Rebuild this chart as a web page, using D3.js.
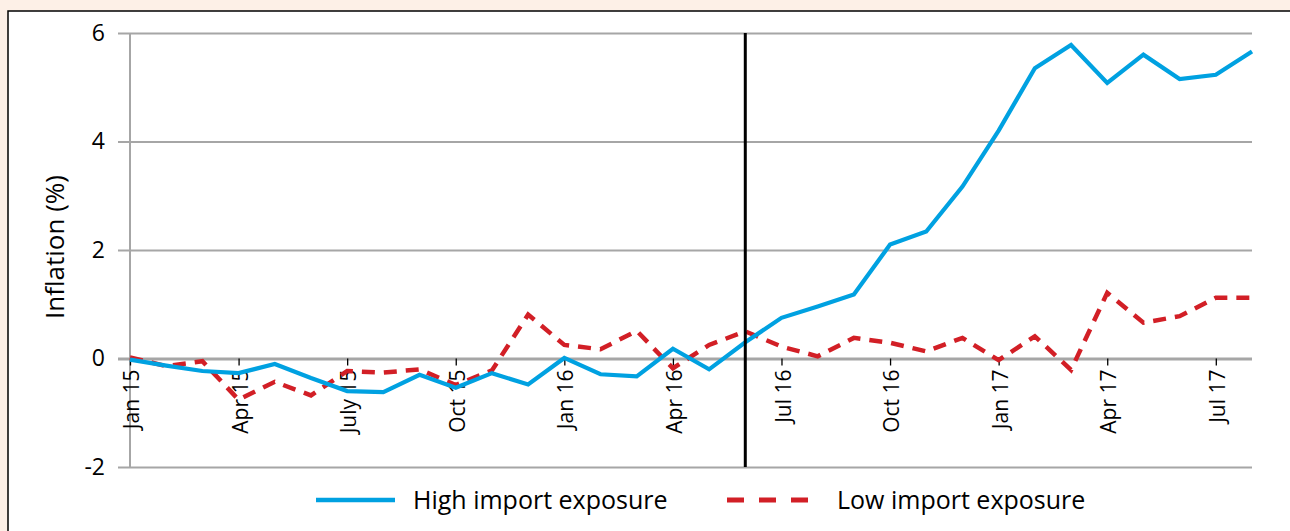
<!DOCTYPE html>
<html>
<head>
<meta charset="utf-8">
<script src="https://cdn.jsdelivr.net/npm/d3@7"></script>
<style>
  html, body { margin: 0; padding: 0; background: #fdf0e7; overflow: hidden; }
  svg { display: block; font-family: "Open Sans", sans-serif; }
</style>
</head>
<body>
<svg id="chart" width="1290" height="531"></svg>
<script>
  // monthly categories, Jan 2015 - Aug 2017
  var months = [
    "Jan 15", "Feb 15", "Mar 15", "Apr 15", "May 15", "Jun 15", "Jul 15", "Aug 15",
    "Sep 15", "Oct 15", "Nov 15", "Dec 15", "Jan 16", "Feb 16", "Mar 16", "Apr 16",
    "May 16", "Jun 16", "Jul 16", "Aug 16", "Sep 16", "Oct 16", "Nov 16", "Dec 16",
    "Jan 17", "Feb 17", "Mar 17", "Apr 17", "May 17", "Jun 17", "Jul 17", "Aug 17"
  ];

  var highImport = [
    -0.02, -0.13, -0.23, -0.27, -0.10, -0.36, -0.60, -0.62,
    -0.30, -0.54, -0.27, -0.48, 0.01, -0.29, -0.33, 0.18,
    -0.20, 0.30, 0.75, 0.96, 1.18, 2.10, 2.34, 3.17,
    4.20, 5.35, 5.78, 5.08, 5.60, 5.15, 5.23, 5.66
  ];

  var lowImport = [
    0.02, -0.14, -0.05, -0.76, -0.43, -0.68, -0.23, -0.26,
    -0.20, -0.49, -0.22, 0.81, 0.25, 0.17, 0.51, -0.18,
    0.25, 0.50, 0.22, 0.04, 0.38, 0.29, 0.13, 0.38,
    -0.03, 0.41, -0.21, 1.21, 0.66, 0.78, 1.12, 1.12
  ];

  var tickMonths = ["Jan 15", "Apr 15", "Jul 15", "Oct 15", "Jan 16", "Apr 16", "Jul 16", "Oct 16", "Jan 17", "Apr 17", "Jul 17"];
  var tickLabels = ["Jan 15", "Apr 15", "July 15", "Oct 15", "Jan 16", "Apr 16", "Jul 16", "Oct 16", "Jan 17", "Apr 17", "Jul 17"];
  var yTicks = [-2, 0, 2, 4, 6];
  var eventMonth = "Jun 16";

  var font = "'Open Sans', sans-serif";
  var svg = d3.select("#chart");

  // white panel with black frame (runs off the right/bottom edge)
  svg.append("rect")
      .attr("x", 8).attr("y", 11)
      .attr("width", 1320).attr("height", 560)
      .attr("fill", "#fff")
      .attr("stroke", "#000")
      .attr("stroke-width", 1.5);

  var x = d3.scalePoint()
      .domain(months)
      .range([130, 1252]);

  var y = d3.scaleLinear()
      .domain([-2, 6])
      .range([467, 33]);

  // gridlines + y axis
  var gy = svg.append("g")
      .attr("transform", "translate(" + x.range()[0] + ",0)")
      .call(d3.axisLeft(y)
        .tickValues(yTicks)
        .tickSize(-(x.range()[1] - x.range()[0]))
        .tickSizeOuter(0)
        .tickPadding(25)
        .tickFormat(function(d) { return String(d); }))
      .attr("font-family", font)
      .attr("font-size", 23);
  gy.select(".domain").remove();
  gy.selectAll(".tick line")
      .attr("x1", -12)
      .attr("stroke", "#a6a6a6")
      .attr("stroke-width", function(d) { return d === 0 ? 3 : 1.8; });
  gy.selectAll(".tick text")
      .attr("fill", "#000");

  // vertical axis line
  svg.append("line")
      .attr("x1", x.range()[0]).attr("x2", x.range()[0])
      .attr("y1", y(6)).attr("y2", y(-2))
      .attr("stroke", "#a6a6a6")
      .attr("stroke-width", 2);

  // category ticks sitting on the zero line
  var gx = svg.append("g")
      .attr("transform", "translate(0," + y(0) + ")")
      .call(d3.axisBottom(x)
        .tickValues(tickMonths)
        .tickSize(7)
        .tickSizeOuter(0)
        .tickFormat(function(d, i) { return tickLabels[i]; }))
      .attr("font-family", font)
      .attr("font-size", 21);
  gx.select(".domain").remove();
  gx.selectAll(".tick line")
      .attr("stroke", "#000")
      .attr("stroke-width", 1.3);
  gx.selectAll(".tick text")
      .attr("fill", "#000")
      .attr("text-anchor", "end")
      .attr("dy", "0.36em")
      .attr("transform", "translate(1,11) rotate(-90)")
      .attr("x", 0)
      .attr("y", 0);

  var line = d3.line()
      .x(function(d, i) { return x(months[i]); })
      .y(function(d) { return y(d); });

  svg.append("path")
      .datum(lowImport)
      .attr("d", line)
      .attr("fill", "none")
      .attr("stroke", "#d21f26")
      .attr("stroke-width", 4.5)
      .attr("stroke-dasharray", "13,9");

  svg.append("path")
      .datum(highImport)
      .attr("d", line)
      .attr("fill", "none")
      .attr("stroke", "#00a1e1")
      .attr("stroke-width", 4.2);

  // referendum marker
  svg.append("line")
      .attr("x1", x(eventMonth)).attr("x2", x(eventMonth))
      .attr("y1", y(6)).attr("y2", y(-2))
      .attr("stroke", "#000")
      .attr("stroke-width", 3);

  // y title
  svg.append("text")
      .attr("transform", "translate(55," + (y(2) - 3) + ") rotate(-90)")
      .attr("text-anchor", "middle")
      .attr("dy", "0.35em")
      .attr("font-size", 26)
      .text("Inflation (%)");

  // legend
  var legend = svg.append("g").attr("transform", "translate(0,500)");
  legend.append("line")
      .attr("x1", 316).attr("x2", 395)
      .attr("stroke", "#00a1e1").attr("stroke-width", 4.5);
  legend.append("text")
      .attr("x", 413).attr("dy", "0.35em")
      .attr("font-size", 25)
      .text("High import exposure");
  legend.append("line")
      .attr("x1", 727).attr("x2", 808)
      .attr("stroke", "#d21f26").attr("stroke-width", 5)
      .attr("stroke-dasharray", "17,15");
  legend.append("text")
      .attr("x", 837).attr("dy", "0.35em")
      .attr("font-size", 25)
      .text("Low import exposure");
</script>
</body>
</html>
